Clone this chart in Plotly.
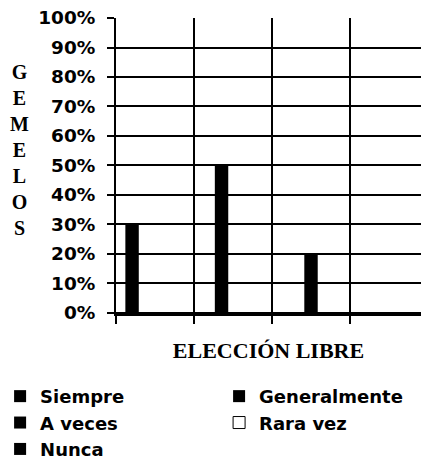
import plotly.graph_objects as go

# ---- data ----
categories = ["1", "2", "3", "4"]
series_names = ["Siempre", "Generalmente", "A veces", "Rara vez", "Nunca"]
siempre = [30, 0, 0, 0]
generalmente = [0, 50, 0, 0]
a_veces = [0, 0, 20, 0]
rara_vez = [0, 0, 0, 0]
nunca = [0, 0, 0, 0]
series_values = [siempre, generalmente, a_veces, rara_vez, nunca]

# ---- style ----
fills = ["black", "black", "black", "white", "black"]
line_w = [0, 0, 0, 1, 0]
legend_of = ["legend", "legend2", "legend", "legend2", "legend"]
BARGAP = 0.265
SLOT = (1 - BARGAP) / len(series_names)
BAR_W = 0.172

SANS = "DejaVu Sans"
SERIF = "Liberation Serif, Times New Roman, serif"
leg_font = dict(family=SANS, size=18, color="black", weight="bold")

fig = go.Figure()
for i, (name, vals) in enumerate(zip(series_names, series_values)):
    off = -0.5 + BARGAP / 2 + SLOT * (i + 0.5) - BAR_W / 2
    fig.add_trace(go.Bar(
        name=name, x=categories, y=vals,
        width=BAR_W, offset=off,
        marker=dict(color=fills[i], line=dict(color="black", width=line_w[i])),
        legend=legend_of[i],
        hoverinfo="skip",
    ))

fig.update_layout(
    width=421, height=461,
    margin=dict(l=116, r=0, t=18, b=147, autoexpand=False),
    paper_bgcolor="white", plot_bgcolor="white",
    barmode="overlay",
    showlegend=True,
    legend=dict(
        orientation="v", x=-0.38, xanchor="left", y=-0.216, yanchor="top",
        font=leg_font, itemclick=False, itemdoubleclick=False, tracegroupgap=0,
        bgcolor="rgba(0,0,0,0)",
    ),
    legend2=dict(
        orientation="v", x=0.338, xanchor="left", y=-0.216, yanchor="top",
        font=leg_font, itemclick=False, itemdoubleclick=False, tracegroupgap=0,
        bgcolor="rgba(0,0,0,0)",
    ),
    xaxis=dict(
        type="category", categoryorder="array", categoryarray=categories,
        range=[-0.5, 3.41], tickson="boundaries",
        showgrid=True, gridcolor="black", gridwidth=1.5,
        showline=True, linecolor="black", linewidth=2,
        ticks="outside", ticklen=8, tickcolor="black", tickwidth=1.5,
        showticklabels=False, zeroline=False,
        title=dict(text="ELECCIÓN LIBRE", standoff=28,
                   font=dict(family=SERIF, size=22, color="black", weight="bold")),
    ),
    yaxis=dict(
        range=[-0.35, 100], dtick=10, tick0=0, ticksuffix="%",
        showgrid=True, gridcolor="black", gridwidth=1.5,
        showline=True, linecolor="black", linewidth=2,
        ticks="outside", ticklen=7, tickcolor="black", tickwidth=1.5,
        ticklabelstandoff=8, zeroline=False,
        tickfont=dict(family=SANS, size=18.5, color="black", weight="bold"),
    ),
    annotations=[dict(
        text="<br>".join(list("GEMELOS")),
        xref="paper", yref="paper", x=-0.315, y=0.554,
        xanchor="center", yanchor="middle", showarrow=False, align="center",
        font=dict(family=SERIF, size=20, color="black", weight="bold"),
    )],
)

fig.write_html("out.html", config={"displayModeBar": False},
               post_script="document.body.style.margin='0px';")
